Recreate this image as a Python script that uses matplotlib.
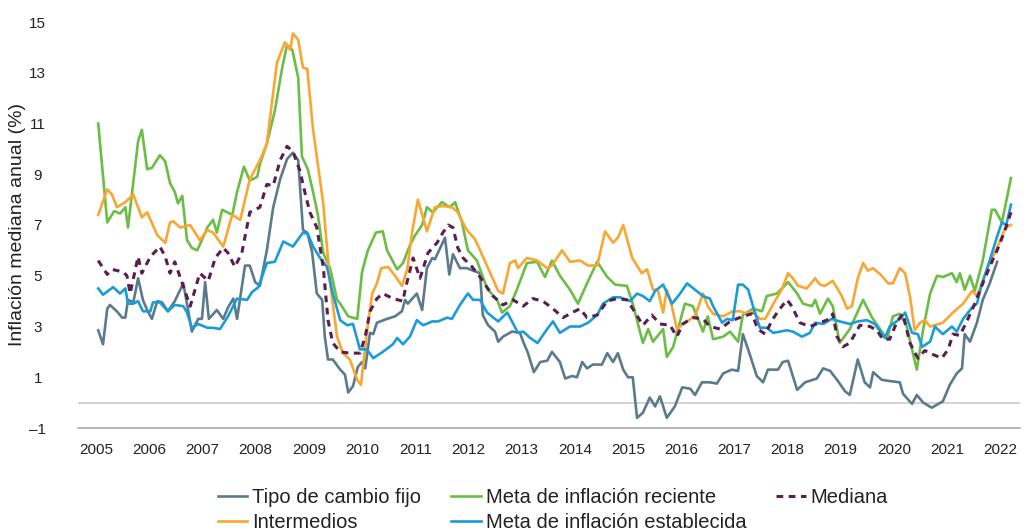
import matplotlib
matplotlib.use("Agg")
import matplotlib.pyplot as plt
from matplotlib import font_manager as fm

names = {f.name for f in fm.fontManager.ttflist}
BASE = "Liberation Sans" if "Liberation Sans" in names else "DejaVu Sans"
plt.rcParams['font.family'] = [BASE, 'DejaVu Sans']

# ---------------- data (decimal years, % values) ----------------
fijo_x = [2005.04, 2005.13, 2005.21, 2005.26, 2005.39, 2005.49, 2005.55, 2005.60, 2005.70, 2005.79, 2005.88, 2005.96,
          2006.05, 2006.15, 2006.24, 2006.35, 2006.48, 2006.64, 2006.73, 2006.80, 2006.92, 2006.99, 2007.05, 2007.12,
          2007.27, 2007.39, 2007.48, 2007.58, 2007.65, 2007.80, 2007.89, 2007.99, 2008.08, 2008.21, 2008.33, 2008.46,
          2008.59, 2008.70, 2008.80, 2008.89, 2008.97, 2009.06, 2009.15, 2009.25, 2009.30, 2009.36, 2009.45, 2009.59,
          2009.68, 2009.74, 2009.83, 2009.92, 2010.00, 2010.06, 2010.15, 2010.21, 2010.28, 2010.47, 2010.62, 2010.75,
          2010.81, 2010.86, 2011.03, 2011.13, 2011.22, 2011.32, 2011.37, 2011.47, 2011.56, 2011.64, 2011.71, 2011.84,
          2011.97, 2012.09, 2012.22, 2012.27, 2012.37, 2012.50, 2012.56, 2012.65, 2012.82, 2012.97, 2013.03, 2013.12,
          2013.23, 2013.35, 2013.48, 2013.57, 2013.72, 2013.82, 2013.95, 2014.04, 2014.14, 2014.23, 2014.34, 2014.51,
          2014.61, 2014.72, 2014.81, 2014.91, 2015.00, 2015.09, 2015.17, 2015.28, 2015.41, 2015.51, 2015.60, 2015.73,
          2015.88, 2016.02, 2016.17, 2016.26, 2016.39, 2016.54, 2016.67, 2016.79, 2016.95, 2017.07, 2017.16, 2017.29,
          2017.42, 2017.54, 2017.63, 2017.82, 2017.91, 2018.01, 2018.18, 2018.33, 2018.48, 2018.55, 2018.67, 2018.80,
          2018.93, 2019.08, 2019.17, 2019.32, 2019.45, 2019.55, 2019.61, 2019.77, 2019.92, 2020.11, 2020.17, 2020.34,
          2020.43, 2020.55, 2020.71, 2020.92, 2021.05, 2021.18, 2021.28, 2021.33, 2021.43, 2021.56, 2021.67, 2021.80,
          2021.94]
fijo_y = [2.85, 2.3, 3.7, 3.85, 3.6, 3.35, 3.35, 4.05, 3.95, 4.9, 4.05, 3.65,
          3.3, 4.0, 3.95, 3.6, 4.0, 4.7, 3.65, 2.8, 3.3, 3.3, 4.75, 3.3,
          3.65, 3.3, 3.75, 4.1, 3.3, 5.4, 5.4, 4.75, 4.6, 6.0, 7.7, 8.8,
          9.6, 9.85, 9.55, 6.8, 6.7, 5.95, 4.3, 4.05, 2.6, 1.7, 1.7, 1.3,
          1.1, 0.4, 0.65, 1.4, 1.6, 1.35, 2.75, 2.7, 3.15, 3.3, 3.4, 3.6,
          4.05, 3.9, 4.3, 3.65, 5.3, 5.7, 5.65, 6.1, 6.5, 5.05, 5.85, 5.3,
          5.3, 5.2, 5.1, 3.45, 3.05, 2.8, 2.4, 2.6, 2.8, 2.75, 2.4, 1.95,
          1.2, 1.6, 1.65, 2.0, 1.6, 0.95, 1.05, 1.0, 1.6, 1.35, 1.5, 1.5,
          1.95, 1.6, 1.95, 1.3, 1.0, 1.0, -0.6, -0.4, 0.2, -0.15, 0.25, -0.6,
          -0.15, 0.6, 0.55, 0.3, 0.8, 0.8, 0.75, 1.15, 1.3, 1.25, 2.7, 1.9,
          1.05, 0.8, 1.3, 1.3, 1.6, 1.65, 0.5, 0.8, 0.9, 0.95, 1.35, 1.25,
          0.9, 0.45, 0.3, 1.7, 0.8, 0.6, 1.2, 0.9, 0.85, 0.8, 0.35, -0.05,
          0.3, 0.0, -0.2, 0.05, 0.7, 1.15, 1.35, 2.7, 2.4, 3.15, 4.05, 4.7,
          5.55]

reciente_x = [2005.04, 2005.21, 2005.34, 2005.45, 2005.55, 2005.60, 2005.79, 2005.86, 2005.96, 2006.05, 2006.20, 2006.30,
              2006.39, 2006.48, 2006.54, 2006.62, 2006.71, 2006.80, 2006.90, 2007.01, 2007.09, 2007.20, 2007.27, 2007.37,
              2007.56, 2007.65, 2007.78, 2007.89, 2008.03, 2008.08, 2008.21, 2008.36, 2008.50, 2008.59, 2008.69, 2008.80,
              2008.87, 2008.98, 2009.08, 2009.17, 2009.27, 2009.40, 2009.53, 2009.59, 2009.74, 2009.91, 2010.00, 2010.11,
              2010.26, 2010.39, 2010.47, 2010.66, 2010.77, 2010.90, 2011.00, 2011.13, 2011.22, 2011.33, 2011.50, 2011.65,
              2011.75, 2011.88, 2011.99, 2012.16, 2012.35, 2012.54, 2012.63, 2012.78, 2012.91, 2013.10, 2013.29, 2013.44,
              2013.57, 2013.72, 2013.91, 2014.06, 2014.23, 2014.42, 2014.61, 2014.76, 2014.98, 2015.09, 2015.28, 2015.38,
              2015.47, 2015.66, 2015.73, 2015.85, 2016.07, 2016.22, 2016.41, 2016.50, 2016.60, 2016.79, 2016.92, 2017.07,
              2017.16, 2017.35, 2017.52, 2017.61, 2017.80, 2018.01, 2018.18, 2018.29, 2018.46, 2018.52, 2018.61, 2018.76,
              2018.85, 2018.98, 2019.17, 2019.42, 2019.59, 2019.87, 2019.98, 2020.11, 2020.24, 2020.43, 2020.55, 2020.68,
              2020.81, 2020.92, 2021.09, 2021.18, 2021.24, 2021.33, 2021.43, 2021.52, 2021.67, 2021.84, 2021.90, 2022.03,
              2022.20]
reciente_y = [11.0, 7.1, 7.55, 7.45, 7.7, 6.9, 10.3, 10.75, 9.2, 9.25, 9.75, 9.5,
              8.65, 8.3, 7.85, 8.15, 6.4, 6.1, 6.0, 6.5, 6.9, 7.2, 6.7, 7.6,
              7.4, 8.3, 9.3, 8.75, 8.9, 9.4, 10.2, 11.5, 13.2, 14.1, 13.9, 12.8,
              9.7, 9.2, 8.3, 7.4, 5.9, 5.3, 4.05, 3.9, 3.4, 3.3, 5.15, 6.0,
              6.7, 6.75, 6.0, 5.25, 5.5, 6.2, 6.6, 7.0, 7.7, 7.5, 7.9, 7.7,
              7.9, 7.1, 6.0, 5.6, 4.5, 4.05, 3.55, 3.8, 4.45, 5.5, 5.55, 4.95,
              5.6, 5.0, 4.45, 3.9, 4.7, 5.55, 4.95, 4.65, 4.6, 3.9, 2.35, 2.9,
              2.4, 2.9, 1.8, 2.2, 3.9, 3.8, 2.8, 3.4, 2.5, 2.6, 2.8, 2.4,
              3.45, 3.7, 3.6, 4.2, 4.3, 4.75, 4.3, 3.9, 3.8, 4.05, 3.5, 4.1,
              3.8, 2.35, 2.9, 4.05, 3.35, 2.5, 3.4, 3.5, 3.0, 1.3, 2.9, 4.3,
              5.0, 4.95, 5.1, 4.75, 5.1, 4.45, 5.0, 4.4, 5.6, 7.6, 7.6, 7.1,
              8.85]

mediana_x = [2005.04, 2005.21, 2005.30, 2005.51, 2005.58, 2005.64, 2005.79, 2005.86, 2006.02, 2006.20, 2006.30, 2006.39,
             2006.48, 2006.62, 2006.77, 2006.95, 2007.11, 2007.24, 2007.39, 2007.48, 2007.61, 2007.74, 2007.89, 2008.08,
             2008.21, 2008.33, 2008.46, 2008.59, 2008.70, 2008.83, 2008.93, 2009.02, 2009.15, 2009.27, 2009.36, 2009.45,
             2009.59, 2009.77, 2009.96, 2010.06, 2010.15, 2010.28, 2010.39, 2010.58, 2010.77, 2010.81, 2010.96, 2011.09,
             2011.24, 2011.41, 2011.52, 2011.62, 2011.71, 2011.80, 2011.90, 2012.07, 2012.22, 2012.46, 2012.65, 2012.84,
             2013.03, 2013.21, 2013.40, 2013.59, 2013.78, 2013.95, 2014.10, 2014.23, 2014.42, 2014.61, 2014.79, 2014.98,
             2015.09, 2015.28, 2015.45, 2015.60, 2015.79, 2015.92, 2016.03, 2016.22, 2016.41, 2016.54, 2016.73, 2016.92,
             2017.16, 2017.33, 2017.44, 2017.58, 2017.71, 2017.82, 2017.99, 2018.08, 2018.23, 2018.42, 2018.61, 2018.80,
             2018.85, 2018.93, 2019.04, 2019.17, 2019.36, 2019.55, 2019.68, 2019.79, 2019.92, 2020.06, 2020.17, 2020.30,
             2020.45, 2020.58, 2020.73, 2020.90, 2021.02, 2021.11, 2021.24, 2021.37, 2021.52, 2021.67, 2021.80, 2021.94,
             2022.09, 2022.20]
mediana_y = [5.6, 5.05, 5.25, 5.15, 5.0, 4.3, 5.75, 5.1, 5.75, 6.15, 5.75, 5.1,
             5.55, 4.7, 3.8, 5.1, 4.8, 5.7, 6.1, 5.9, 5.35, 5.9, 7.5, 7.7,
             8.6, 8.55, 9.55, 10.1, 9.9, 9.15, 8.25, 7.5, 6.9, 5.35, 3.25, 2.35,
             2.0, 1.95, 1.95, 2.6, 3.6, 4.1, 4.3, 4.1, 4.0, 4.45, 5.7, 4.9,
             5.9, 6.3, 6.7, 7.0, 6.9, 6.1, 5.7, 5.35, 4.95, 4.2, 3.85, 4.05,
             3.8, 4.1, 4.0, 3.7, 3.35, 3.55, 3.7, 3.35, 3.45, 4.0, 4.1, 4.05,
             3.7, 3.05, 3.45, 3.1, 3.05, 2.6, 3.1, 3.35, 3.3, 3.0, 2.9, 3.2,
             3.4, 3.5, 2.9, 2.7, 3.25, 3.6, 4.05, 3.8, 3.15, 3.0, 3.15, 3.3,
             3.5, 2.6, 2.2, 2.35, 3.05, 3.0, 2.85, 2.5, 2.5, 3.2, 3.5, 2.35,
             1.75, 2.05, 1.9, 1.75, 2.1, 2.7, 2.65, 3.2, 3.9, 4.7, 5.35, 6.0,
             6.8, 7.5]

intermedios_x = [2005.04, 2005.21, 2005.30, 2005.39, 2005.55, 2005.70, 2005.86, 2005.96, 2006.15, 2006.30, 2006.39, 2006.45,
                 2006.58, 2006.77, 2006.95, 2007.09, 2007.20, 2007.39, 2007.56, 2007.71, 2007.89, 2008.08, 2008.21, 2008.33,
                 2008.40, 2008.55, 2008.65, 2008.70, 2008.80, 2008.89, 2008.97, 2009.08, 2009.27, 2009.40, 2009.53, 2009.64,
                 2009.77, 2009.91, 2009.98, 2010.09, 2010.19, 2010.28, 2010.36, 2010.49, 2010.62, 2010.75, 2010.85, 2010.94,
                 2011.05, 2011.22, 2011.37, 2011.52, 2011.69, 2011.80, 2011.97, 2012.12, 2012.22, 2012.41, 2012.56, 2012.65,
                 2012.78, 2012.88, 2012.93, 2013.10, 2013.29, 2013.48, 2013.57, 2013.76, 2013.91, 2014.10, 2014.25, 2014.42,
                 2014.57, 2014.72, 2014.81, 2014.91, 2015.08, 2015.26, 2015.36, 2015.47, 2015.56, 2015.66, 2015.73, 2015.83,
                 2015.92, 2016.07, 2016.26, 2016.41, 2016.50, 2016.60, 2016.79, 2016.97, 2017.11, 2017.24, 2017.33, 2017.48,
                 2017.58, 2017.76, 2017.89, 2018.01, 2018.10, 2018.20, 2018.36, 2018.52, 2018.61, 2018.70, 2018.85, 2019.02,
                 2019.12, 2019.21, 2019.32, 2019.42, 2019.51, 2019.61, 2019.77, 2019.89, 2019.98, 2020.11, 2020.21, 2020.30,
                 2020.39, 2020.49, 2020.58, 2020.68, 2020.92, 2021.11, 2021.30, 2021.47, 2021.56, 2021.67, 2021.80, 2021.94,
                 2022.03, 2022.09, 2022.20]
intermedios_y = [7.4, 8.4, 8.2, 7.7, 7.9, 8.2, 7.3, 7.5, 6.6, 6.3, 7.1, 7.15,
                 6.9, 7.0, 6.4, 6.8, 6.7, 6.15, 7.4, 7.2, 8.8, 9.55, 10.2, 12.2,
                 13.4, 14.2, 13.9, 14.55, 14.3, 13.2, 13.15, 10.75, 7.85, 4.7, 2.6, 1.95,
                 1.7, 0.9, 0.7, 2.75, 4.3, 4.7, 5.3, 5.35, 5.0, 4.6, 5.25, 6.7,
                 8.0, 6.75, 7.7, 7.75, 7.7, 7.5, 6.8, 6.45, 6.0, 5.1, 4.4, 4.3,
                 5.5, 5.6, 5.3, 5.7, 5.6, 5.3, 5.4, 6.0, 5.55, 5.6, 5.4, 5.4,
                 6.75, 6.3, 6.5, 7.0, 5.7, 5.1, 5.25, 4.45, 4.45, 3.55, 4.45, 3.75,
                 2.9, 3.15, 3.4, 4.3, 3.8, 3.5, 3.4, 3.6, 3.6, 3.5, 3.6, 3.3,
                 3.3, 4.0, 4.45, 5.1, 4.9, 4.6, 4.5, 4.9, 4.65, 4.6, 4.8, 4.2,
                 3.7, 3.8, 4.9, 5.5, 5.2, 5.3, 5.0, 4.7, 4.7, 5.3, 5.1, 4.2,
                 2.85, 3.15, 3.25, 3.0, 3.15, 3.55, 3.9, 4.4, 4.2, 4.8, 5.5, 6.1,
                 6.55, 6.9, 7.0]

establecida_x = [2005.04, 2005.13, 2005.32, 2005.45, 2005.55, 2005.60, 2005.70, 2005.79, 2005.88, 2006.02, 2006.07, 2006.20,
                 2006.35, 2006.48, 2006.64, 2006.71, 2006.80, 2006.92, 2007.09, 2007.20, 2007.33, 2007.48, 2007.65, 2007.84,
                 2007.93, 2008.05, 2008.21, 2008.36, 2008.52, 2008.70, 2008.89, 2008.98, 2009.08, 2009.21, 2009.34, 2009.45,
                 2009.59, 2009.72, 2009.83, 2009.96, 2010.09, 2010.21, 2010.39, 2010.58, 2010.66, 2010.77, 2010.90, 2011.03,
                 2011.15, 2011.32, 2011.43, 2011.60, 2011.69, 2011.84, 2011.99, 2012.09, 2012.22, 2012.35, 2012.56, 2012.73,
                 2012.82, 2012.93, 2013.03, 2013.16, 2013.30, 2013.48, 2013.59, 2013.72, 2013.91, 2014.10, 2014.25, 2014.42,
                 2014.53, 2014.72, 2014.85, 2015.04, 2015.17, 2015.28, 2015.41, 2015.51, 2015.66, 2015.83, 2015.98, 2016.11,
                 2016.26, 2016.41, 2016.54, 2016.60, 2016.77, 2016.86, 2016.97, 2017.07, 2017.16, 2017.26, 2017.35, 2017.48,
                 2017.61, 2017.73, 2017.86, 2017.99, 2018.10, 2018.27, 2018.42, 2018.52, 2018.67, 2018.83, 2018.98, 2019.17,
                 2019.32, 2019.49, 2019.64, 2019.83, 2019.92, 2020.11, 2020.21, 2020.34, 2020.45, 2020.53, 2020.68, 2020.77,
                 2020.92, 2021.09, 2021.18, 2021.30, 2021.47, 2021.56, 2021.65, 2021.80, 2021.94, 2022.03, 2022.11, 2022.20]
establecida_y = [4.5, 4.25, 4.55, 4.3, 4.5, 3.9, 3.9, 4.0, 3.6, 3.6, 3.95, 3.95,
                 3.6, 3.85, 3.8, 3.55, 2.95, 3.1, 2.95, 2.95, 2.9, 3.4, 4.1, 4.05,
                 4.35, 4.55, 5.5, 5.55, 6.35, 6.15, 6.7, 6.65, 6.15, 5.7, 5.35, 4.3,
                 3.25, 3.05, 3.1, 2.1, 2.1, 1.75, 2.0, 2.3, 2.55, 2.3, 2.6, 3.25,
                 3.05, 3.2, 3.2, 3.35, 3.3, 3.85, 4.3, 4.05, 4.05, 3.55, 3.2, 3.55,
                 3.2, 2.75, 2.8, 2.55, 2.35, 2.9, 3.2, 2.75, 3.0, 3.0, 3.15, 3.45,
                 3.9, 4.15, 4.15, 4.0, 4.3, 4.2, 4.0, 4.4, 4.65, 3.9, 4.3, 4.7,
                 4.45, 4.2, 4.1, 3.8, 3.15, 3.3, 3.25, 4.65, 4.65, 4.45, 3.8, 2.95,
                 2.95, 2.75, 2.8, 2.85, 2.8, 2.6, 2.75, 3.15, 3.1, 3.3, 3.2, 3.1,
                 3.2, 3.25, 3.1, 2.55, 3.0, 3.3, 3.55, 2.75, 2.7, 2.2, 2.4, 3.0,
                 2.7, 3.0, 2.8, 3.3, 3.75, 3.9, 4.65, 5.6, 6.55, 7.1, 7.0, 7.8]

years = list(range(2005, 2023))
yticks = [-1, 1, 3, 5, 7, 9, 11, 13, 15]
ytick_labels = ["\u20131", "1", "3", "5", "7", "9", "11", "13", "15"]

labels = ["Tipo de cambio fijo", "Intermedios", "Meta de inflación reciente",
          "Meta de inflación establecida", "Mediana"]
colors = {"fijo": "#5b7b8d", "inter": "#f9a632", "rec": "#6cbd45",
          "est": "#1b9bd7", "med": "#5a1f4f"}

# ---------------- figure ----------------
fig = plt.figure(figsize=(10.27, 5.32), dpi=100)
ax = fig.add_axes([78/1027, 1-428/532, (1020-78)/1027, (428-22)/532])

lw = 1.9
h_fijo, = ax.plot(fijo_x, fijo_y, color=colors["fijo"], lw=lw, label=labels[0], zorder=3)
h_rec, = ax.plot(reciente_x, reciente_y, color=colors["rec"], lw=lw, label=labels[2], zorder=3)
h_inter, = ax.plot(intermedios_x, intermedios_y, color=colors["inter"], lw=lw, label=labels[1], zorder=4)
h_med, = ax.plot(mediana_x, mediana_y, color=colors["med"], lw=2.2, ls=(0, (2.2, 1.8)), label=labels[4], zorder=5)
h_est, = ax.plot(establecida_x, establecida_y, color=colors["est"], lw=lw, label=labels[3], zorder=4)

ax.axhline(0, color="#c6c6c6", lw=1.1, zorder=1)

ax.set_xlim(2004.66, 2022.37)
ax.set_ylim(-1, 15)
ax.set_xticks(years)
ax.set_xticklabels([str(y) for y in years])
ax.set_yticks(yticks)
ax.set_yticklabels(ytick_labels, ha="center")
ax.tick_params(axis="both", length=0, labelsize=11, colors="#222222")
ax.tick_params(axis="y", pad=29)
ax.tick_params(axis="x", pad=11)

for s in ["top", "right", "left"]:
    ax.spines[s].set_visible(False)
ax.spines["bottom"].set_color("#a3a3a3")
ax.spines["bottom"].set_linewidth(1.1)

fig.text(18/1027, 1-224/532, "Inflación mediana anual (%)", rotation=90,
         ha="center", va="center", fontsize=14, color="#222222")

handles = [h_fijo, h_inter, h_rec, h_est, h_med]
leg = fig.legend(handles, labels, ncol=3, loc="center", bbox_to_anchor=(553/1027, 1-510/532),
                 frameon=False, prop={"size": 14.5},
                 handlelength=1.45, handletextpad=0.25, columnspacing=1.5, labelspacing=0.3,
                 borderpad=0)
for t in leg.get_texts():
    t.set_color("#222222")

fig.savefig("out.png", dpi=100)
